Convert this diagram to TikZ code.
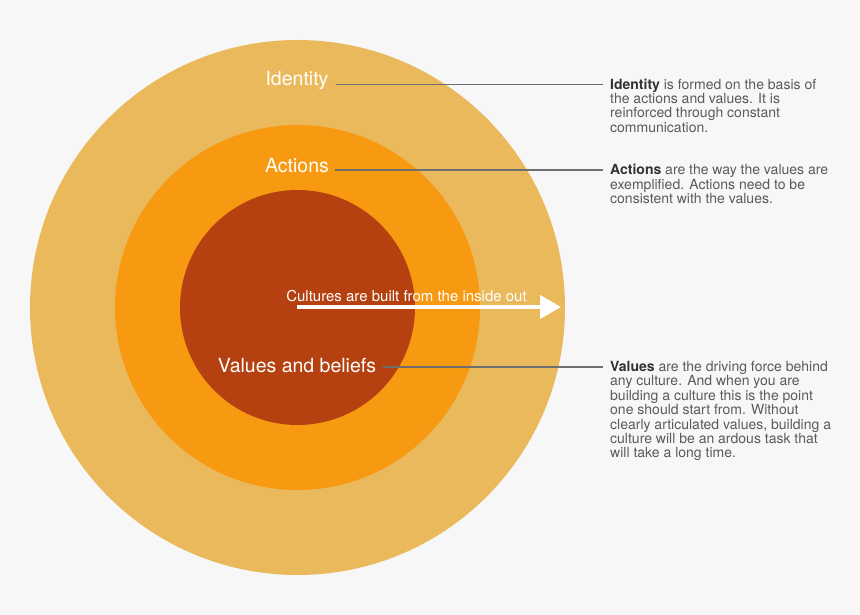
\documentclass[tikz,border=0pt]{standalone}
\usepackage{fontspec}
\setmainfont{TeX Gyre Heros}
\usetikzlibrary{positioning,calc,arrows.meta}
\definecolor{PageGrey}{RGB}{247,247,247}
\definecolor{IdentityGold}{RGB}{233,185,91}
\definecolor{ActionOrange}{RGB}{247,154,18}
\definecolor{ValueRust}{RGB}{181,65,17}
\definecolor{LeaderGrey}{RGB}{110,110,110}
\definecolor{NoteGrey}{RGB}{90,90,90}
\definecolor{NoteDark}{RGB}{50,50,50}

\begin{document}
\begin{tikzpicture}[x=1pt, y=-1pt,
  ringlabel/.style={text=white, font=\fontsize{19.5}{21}\selectfont, anchor=base, inner sep=0pt},
  note/.style={text=NoteGrey, font=\fontsize{14}{14.4}\selectfont, anchor=north west, align=left, inner sep=0pt},
  leader/.style={LeaderGrey, line width=1.1pt}]
  \fill[PageGrey] (0,0) rectangle (860,615);
  \useasboundingbox (0,0) rectangle (860,615);
  % the three rings
  \fill[IdentityGold] (297.5,307.5) circle[radius=267.5];
  \fill[ActionOrange] (297.5,307.5) circle[radius=182.5];
  \fill[ValueRust]    (297.5,307.5) circle[radius=117.5];
  % ring labels
  \node[ringlabel] (lblid)  at (297,86)  {Identity};
  \node[ringlabel] (lblact) at (297,173) {Actions};
  \node[ringlabel] (lblval) at (297,372) {Values and beliefs};
  % arrow
  \coordinate (arrstart) at (297,307);
  \coordinate (arrend)   at (561,307);
  \draw[white, line width=4pt, -{Triangle[length=21pt,width=23pt]}] (arrstart) -- (arrend);
  \node[text=white, font=\fontsize{15}{17}\selectfont, anchor=base, inner sep=0pt] (arrtext) at (406.5,301) {Cultures are built from the inside out};
  % notes
  \node[note] (txtid) at (610,78.5) {\textcolor{NoteDark}{\bfseries Identity} is formed on the basis of\\the actions and values. It is\\reinforced through constant\\communication.};
  \node[note] (txtact) at (610,164) {\textcolor{NoteDark}{\bfseries Actions} are the way the values are\\exemplified. Actions need to be\\consistent with the values.};
  \node[note] (txtval) at (610,361) {\textcolor{NoteDark}{\bfseries Values} are the driving force behind\\any culture. And when you are\\building a culture this is the point\\one should start from. Without\\clearly articulated values, building a\\culture will be an ardous task that\\will take a long time.};
  % leaders
  \draw[leader] ([xshift=7pt,yshift=1.5pt]lblid.base east) -- ([xshift=-7pt,yshift=-6pt]txtid.north west);
  \draw[leader] ([xshift=6pt,yshift=3pt]lblact.base east) -- ([xshift=-7pt,yshift=-6pt]txtact.north west);
  \draw[leader] ([xshift=7pt,yshift=5pt]lblval.base east) -- ([xshift=-7pt,yshift=-6pt]txtval.north west);
\end{tikzpicture}
\end{document}
